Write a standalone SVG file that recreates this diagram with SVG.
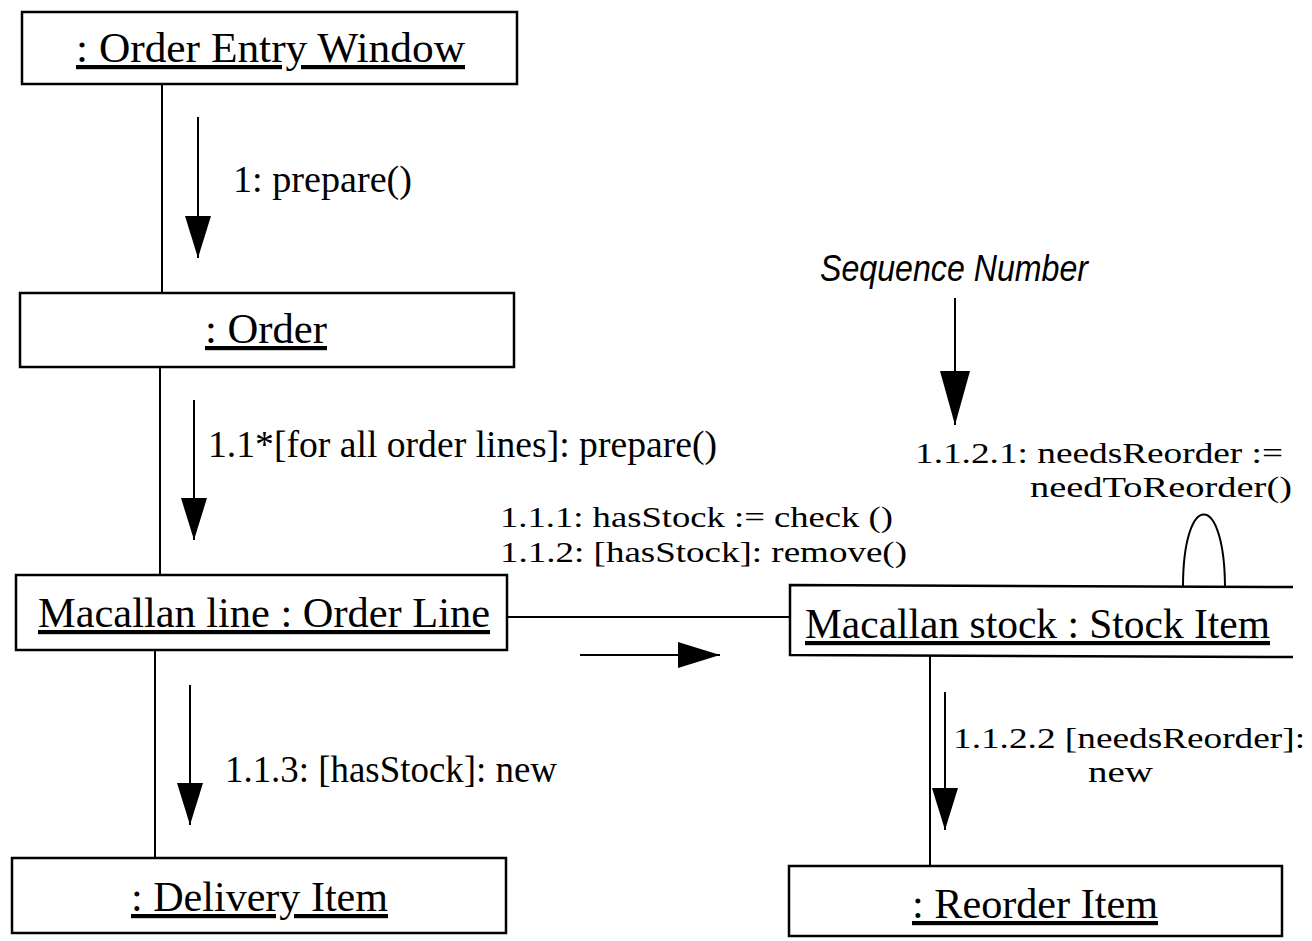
<svg xmlns="http://www.w3.org/2000/svg" width="1312" height="941" viewBox="0 0 1312 941">
<defs>
<style>
.box{fill:#fff;stroke:#000;stroke-width:2.5}
.ln{fill:none;stroke:#000;stroke-width:2}
.arr{fill:none;stroke:#000;stroke-width:2;marker-end:url(#head)}
.name{font-family:"Liberation Serif","Times New Roman",serif;font-size:42px;fill:#000;text-decoration:underline}
.msg{font-family:"Liberation Serif","Times New Roman",serif;font-size:38px;fill:#000}
.msg2{font-family:"Liberation Serif","Times New Roman",serif;font-size:30px;fill:#000}
.note{font-family:"Liberation Sans",Arial,sans-serif;font-style:italic;font-size:36px;fill:#000}
</style>
<marker id="head" viewBox="0 0 42 26" refX="42" refY="13" markerWidth="42" markerHeight="26" markerUnits="userSpaceOnUse" orient="auto">
<path d="M0,0 L42,13 L0,26 z" fill="#000"/>
</marker>
<marker id="headBig" viewBox="0 0 54 30" refX="54" refY="15" markerWidth="54" markerHeight="30" markerUnits="userSpaceOnUse" orient="auto">
<path d="M0,0 L54,15 L0,30 z" fill="#000"/>
</marker>
</defs>
<rect width="1312" height="941" fill="#fff"/>
<g id="connectors">
<line class="ln" x1="162" y1="84" x2="162" y2="293"/>
<line class="ln" x1="160" y1="367" x2="160" y2="575"/>
<line class="ln" x1="155" y1="650" x2="155" y2="858"/>
<line class="ln" x1="507" y1="617" x2="790" y2="617"/>
<line class="ln" x1="930" y1="655" x2="930" y2="866"/>
<path class="ln" d="M1183,587 C1183,490 1225,490 1225,589"/>
<line class="arr" x1="198" y1="117" x2="198" y2="258"/>
<line class="arr" x1="194" y1="400" x2="194" y2="540"/>
<line class="arr" x1="190" y1="685" x2="190" y2="825"/>
<line class="arr" x1="580" y1="655" x2="720" y2="655"/>
<line class="arr" x1="945" y1="692" x2="945" y2="830"/>
<line class="ln" x1="955" y1="298" x2="955" y2="425" style="marker-end:url(#headBig)"/>
<text class="msg" x="233" y="192" textLength="179" lengthAdjust="spacingAndGlyphs">1: prepare()</text>
<text class="msg" x="208" y="457" textLength="509" lengthAdjust="spacingAndGlyphs">1.1*[for all order lines]: prepare()</text>
<text class="msg2"><tspan x="500" y="527" textLength="393" lengthAdjust="spacingAndGlyphs">1.1.1: hasStock := check ()</tspan><tspan x="500" y="562" textLength="407" lengthAdjust="spacingAndGlyphs">1.1.2: [hasStock]: remove()</tspan></text>
<text class="msg" x="225" y="782" textLength="332" lengthAdjust="spacingAndGlyphs">1.1.3: [hasStock]: new</text>
<text class="msg2"><tspan x="915" y="463" textLength="368" lengthAdjust="spacingAndGlyphs">1.1.2.1: needsReorder :=</tspan><tspan x="1030" y="497" textLength="262" lengthAdjust="spacingAndGlyphs">needToReorder()</tspan></text>
<text class="msg2"><tspan x="953" y="748" textLength="352" lengthAdjust="spacingAndGlyphs">1.1.2.2 [needsReorder]:</tspan><tspan x="1088" y="782" textLength="65" lengthAdjust="spacingAndGlyphs">new</tspan></text>
<text class="note" x="820" y="281" textLength="268" lengthAdjust="spacingAndGlyphs">Sequence Number</text>
</g>
<g id="order-entry-window">
<rect class="box" x="22" y="12" width="495" height="72"/>
<text class="name" x="76" y="62" textLength="389" lengthAdjust="spacingAndGlyphs">: Order Entry Window</text>
</g>
<g id="order">
<rect class="box" x="20" y="293" width="494" height="74"/>
<text class="name" x="205" y="343" textLength="122" lengthAdjust="spacingAndGlyphs">: Order</text>
</g>
<g id="order-line">
<rect class="box" x="16" y="575" width="491" height="75"/>
<text class="name" x="38" y="627" textLength="452" lengthAdjust="spacingAndGlyphs">Macallan line : Order Line</text>
</g>
<g id="stock-item">
<path class="box" d="M1293,587 L790,585 L790,655 L1293,657" fill="#fff"/>
<text class="name" x="805" y="638" textLength="465" lengthAdjust="spacingAndGlyphs">Macallan stock : Stock Item</text>
</g>
<g id="delivery-item">
<rect class="box" x="12" y="858" width="494" height="75"/>
<text class="name" x="131" y="911" textLength="257" lengthAdjust="spacingAndGlyphs">: Delivery Item</text>
</g>
<g id="reorder-item">
<rect class="box" x="789" y="866" width="493" height="70"/>
<text class="name" x="912" y="918" textLength="246" lengthAdjust="spacingAndGlyphs">: Reorder Item</text>
</g>
</svg>
